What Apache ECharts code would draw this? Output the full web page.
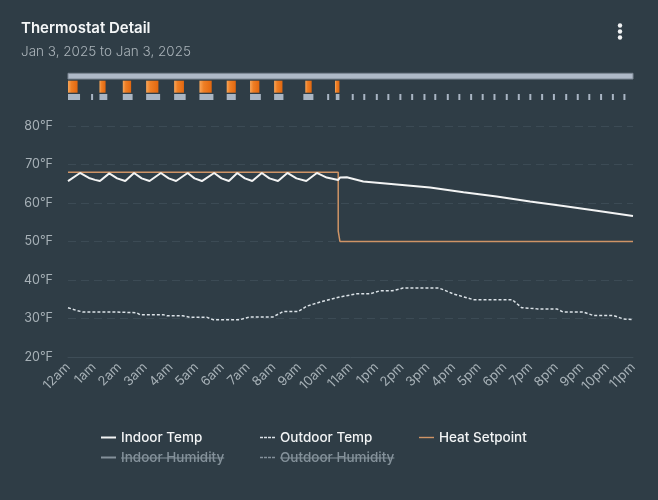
<!DOCTYPE html>
<html>
<head>
<meta charset="utf-8">
<script src="https://cdn.jsdelivr.net/npm/echarts@6/dist/echarts.min.js"></script>
<style>
html,body{margin:0;padding:0;background:#2f3d46;}
#c{width:658px;height:500px;}
</style>
</head>
<body>
<div id="c"></div>
<script>
// ---------- data ----------
const titleText = 'Thermostat Detail';
const subtitleText = 'Jan 3, 2025 to Jan 3, 2025';
// tick labels as shown (evenly spaced across the day)
const hourLabels = ['12am','1am','2am','3am','4am','5am','6am','7am','8am','9am','10am','11am',
  '1pm','2pm','3pm','4pm','5pm','6pm','7pm','8pm','9pm','10pm','11pm'];
const xMin = 0, xMax = 23;      // hours covered by the data
const yMin = 20, yMax = 80, yStep = 10;
const seriesNames = ['Indoor Temp','Outdoor Temp','Heat Setpoint','Indoor Humidity','Outdoor Humidity'];

// [hour, °F]
const indoorTemp = [[0.0,65.7],[0.49,67.8],[0.85,66.5],[1.1,66.0],[1.30,65.7],[1.68,67.7],[2.0,66.4],[2.33,65.7],
  [2.69,67.8],[3.0,66.4],[3.32,65.7],[3.78,67.8],[4.1,66.4],[4.4,65.7],[4.87,67.8],[5.15,66.4],[5.45,65.7],
  [5.95,67.8],[6.25,66.4],[6.55,65.7],[6.89,67.8],[7.2,66.4],[7.5,65.7],[7.89,67.8],[8.2,66.4],[8.55,65.7],
  [8.93,67.8],[9.3,66.4],[9.7,65.7],[10.13,67.8],[10.53,66.6],[11.0,66.0],[11.07,66.6],[11.35,66.7],
  [12.02,65.6],[13.38,64.8],[14.74,64.0],[16.1,62.8],[17.45,61.7],[18.81,60.4],[20.17,59.2],[21.53,58.0],[23.0,56.6]];
const outdoorTemp = [[0,32.8],[0.35,32.1],[0.6,31.7],[1.84,31.7],[1.87,31.5],[2.8,31.5],[2.93,31.0],[3.87,31.0],
  [4.03,30.7],[4.68,30.7],[4.97,30.3],[5.66,30.3],[5.9,29.7],[7.0,29.7],[7.41,30.4],[8.35,30.4],[8.75,31.8],
  [9.37,31.8],[9.72,33.2],[10.38,34.5],[11.07,35.6],[11.75,36.4],[12.3,36.4],[12.7,37.2],[13.2,37.2],
  [13.64,37.9],[15.1,37.9],[15.27,37.5],[15.68,36.4],[16.5,34.9],[18.08,34.9],[18.47,32.8],[19.1,32.5],
  [19.9,32.5],[20.15,31.7],[20.97,31.7],[21.38,30.8],[22.2,30.8],[22.6,29.9],[23.0,29.7]];
const heatSetpoint = [[0,68],[11.0,68],[11.0,52.7],[11.07,52.7],[11.07,50],[23,50]];
const indoorHumidity = [];
const outdoorHumidity = [];

// top activity strip: [startHour, endHour]
const modeSpans = [[0,23]];
const heatSpans = [[0,0.39],[1.28,1.53],[2.23,2.57],[3.18,3.68],[4.32,4.72],[5.35,5.85],[6.46,6.83],
  [7.41,7.79],[8.39,8.73],[9.66,9.92],[10.87,11.05]];
const fanSpans = [[0,0.49],[0.94,1.0],[1.28,1.6],[2.23,2.63],[3.18,3.75],[4.32,4.79],[5.35,5.92],[6.46,6.83],
  [7.41,7.85],[8.39,8.77],[9.58,9.99],[10.55,10.61],[10.9,11.05],
  [11.55,11.62],[12.02,12.09],[12.53,12.6],[13.0,13.07],[13.49,13.56],[13.97,14.04],[14.47,14.54],[14.91,14.98],
  [15.42,15.49],[15.89,15.96],[16.37,16.44],[16.84,16.91],[17.32,17.39],[17.82,17.89],[18.31,18.38],[18.78,18.85],
  [19.26,19.33],[19.74,19.81],[20.24,20.31],[20.71,20.78],[21.18,21.25],[21.66,21.73],[22.14,22.21],[22.61,22.68]];

// ---------- styling ----------
const FONT = 'Inter, "Open Sans", sans-serif';
const cIndoor = '#f3f4f4', cOutdoor = '#dbe2e7', cSet = '#cf9466', cInactive = '#84919a';
const axisTextColor = '#a7b1b7';

const stripData = [];
modeSpans.forEach(s => stripData.push([s[0], s[1], 0]));
heatSpans.forEach(s => stripData.push([s[0], s[1], 1]));
fanSpans.forEach(s => stripData.push([s[0], s[1], 2]));
const rowBands = [[0.3,6],[7.7,19.7],[21,27]];

function renderStrip(params, api) {
  const row = api.value(2);
  const band = rowBands[row];
  const p0 = api.coord([api.value(0), band[0]]);
  const p1 = api.coord([api.value(1), band[1]]);
  const x = p0[0], y = Math.min(p0[1], p1[1]);
  const w = Math.max(p1[0] - p0[0], 2), h = Math.abs(p1[1] - p0[1]);
  let style;
  if (row === 0) style = {fill: '#aeb9c7', stroke: '#7c8793', lineWidth: 1};
  else if (row === 1) style = {fill: new echarts.graphic.LinearGradient(0,0,1,0,[
      {offset:0,color:'#f7a65a'},{offset:0.35,color:'#ef7f25'},{offset:1,color:'#e2670f'}])};
  else style = {fill: '#a9b5c3'};
  return {type: 'rect', shape: {x: x, y: y, width: w, height: h}, style: style};
}

const chart = echarts.init(document.getElementById('c'), null, {renderer: 'canvas'});

const legendPos = [[101,430],[260,430],[419,430],[101,450],[260,450]];
const legendIcons = [
  'path://M0,0H15V2H0Z',
  'path://M0,0H3V1.4H0Z M4,0H7V1.4H4Z M8,0H11V1.4H8Z M12,0H15V1.4H12Z',
  'path://M0,0H15V1.4H0Z',
  'path://M0,0H15V2H0Z',
  'path://M0,0H3V1.4H0Z M4,0H7V1.4H4Z M8,0H11V1.4H8Z M12,0H15V1.4H12Z'
];
const LEG_FS = 13.5;
const legends = seriesNames.map((n, i) => ({
  left: legendPos[i][0], top: legendPos[i][1], padding: 0,
  data: [{name: n, icon: legendIcons[i]}],
  itemWidth: 15, itemHeight: i === 0 || i === 3 ? 2 : 1.4,
  inactiveColor: cInactive,
  selected: {'Indoor Humidity': false, 'Outdoor Humidity': false},
  textStyle: {color: '#f2f4f5', fontFamily: FONT, fontSize: LEG_FS, fontWeight: 500, lineHeight: 15}
}));

// strike-through lines for inactive legend entries
const mctx = document.createElement('canvas').getContext('2d');
mctx.font = '500 ' + LEG_FS + 'px Inter';
const strikes = [3,4].map(i => {
  const x0 = legendPos[i][0] + 20;
  const w = mctx.measureText(seriesNames[i]).width;
  return {type: 'line', silent: true, z: 100,
    shape: {x1: x0, y1: legendPos[i][1] + 8, x2: x0 + w, y2: legendPos[i][1] + 8},
    style: {stroke: cInactive, lineWidth: 1.2}};
});

chart.setOption({
  animation: false,
  backgroundColor: '#2f3d46',
  title: [
    {text: titleText, left: 21, top: 21, padding: 0,
     textStyle: {color: '#f4f6f7', fontFamily: FONT, fontSize: 15, fontWeight: 600}},
    {text: subtitleText, left: 21, top: 45, padding: 0,
     textStyle: {color: '#aab3b9', fontFamily: FONT, fontSize: 13.5, fontWeight: 300}}
  ],
  graphic: [
    {type: 'circle', shape: {cx: 620, cy: 25.5, r: 2.2}, style: {fill: '#f0f2f3'}},
    {type: 'circle', shape: {cx: 620, cy: 31.5, r: 2.2}, style: {fill: '#f0f2f3'}},
    {type: 'circle', shape: {cx: 620, cy: 37.5, r: 2.2}, style: {fill: '#f0f2f3'}}
  ].concat(strikes),
  legend: legends,
  grid: [
    {left: 68, right: 25, top: 126, bottom: 143},
    {left: 68, right: 25, top: 73, height: 27}
  ],
  xAxis: [
    {type: 'value', gridIndex: 0, min: xMin, max: xMax, show: false},
    {type: 'value', gridIndex: 1, min: xMin, max: xMax, show: false},
    {type: 'category', gridIndex: 0, data: hourLabels, boundaryGap: false, position: 'bottom',
     axisLine: {show: true, lineStyle: {color: '#3e4d57'}},
     axisTick: {show: false}, splitLine: {show: false},
     axisLabel: {rotate: 45, margin: 8, interval: 0, color: axisTextColor, fontFamily: FONT, fontSize: 13}}
  ],
  yAxis: [
    {type: 'value', gridIndex: 0, min: yMin, max: yMax, interval: yStep,
     axisLine: {show: false}, axisTick: {show: false},
     splitLine: {lineStyle: {color: '#3c4b55', type: [8,5], width: 1}},
     axisLabel: {margin: 15, color: axisTextColor, fontFamily: FONT, fontSize: 12.5,
       formatter: v => v + '°F'}},
    {type: 'value', gridIndex: 1, min: 0, max: 27, inverse: true, show: false}
  ],
  series: [
    {name: seriesNames[0], type: 'line', data: indoorTemp, showSymbol: false, z: 4,
     lineStyle: {color: cIndoor, width: 2}, itemStyle: {color: cIndoor}},
    {name: seriesNames[1], type: 'line', data: outdoorTemp, showSymbol: false, z: 3,
     lineStyle: {color: cOutdoor, width: 1.5, type: [3,2]}, itemStyle: {color: cOutdoor}},
    {name: seriesNames[2], type: 'line', data: heatSetpoint, showSymbol: false, z: 2,
     lineStyle: {color: cSet, width: 1.5}, itemStyle: {color: cSet}},
    {name: seriesNames[3], type: 'line', data: indoorHumidity, showSymbol: false,
     lineStyle: {color: '#9fb4c4', width: 2}, itemStyle: {color: '#9fb4c4'}},
    {name: seriesNames[4], type: 'line', data: outdoorHumidity, showSymbol: false,
     lineStyle: {color: '#9fb4c4', width: 1.5, type: [3,2]}, itemStyle: {color: '#9fb4c4'}},
    {name: 'activity', type: 'custom', xAxisIndex: 1, yAxisIndex: 1, data: stripData,
     renderItem: renderStrip, silent: true}
  ]
});
</script>
</body>
</html>
